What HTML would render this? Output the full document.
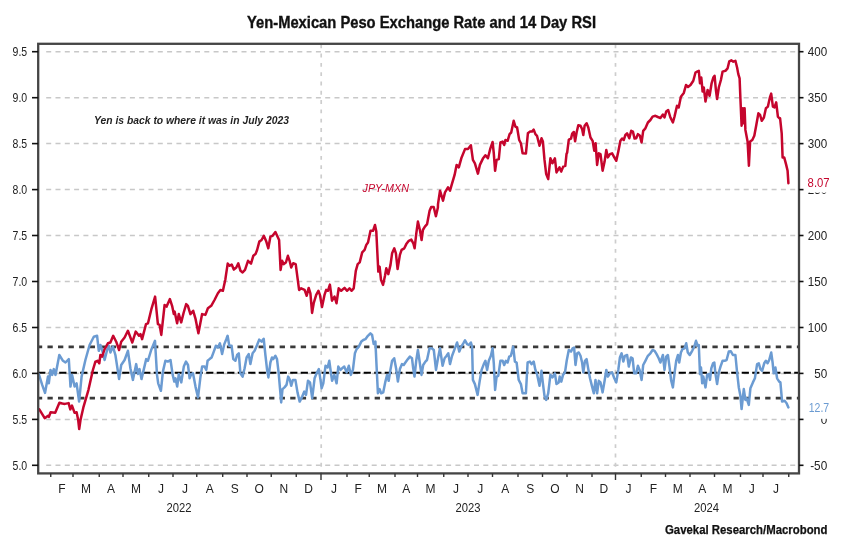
<!DOCTYPE html>
<html><head><meta charset="utf-8"><title>Yen-Mexican Peso Exchange Rate and 14 Day RSI</title>
<style>
html,body{margin:0;padding:0;background:#fff;}
body{width:841px;height:548px;overflow:hidden;}
svg{display:block;}
text{font-family:"Liberation Sans",sans-serif;}
</style></head><body>
<svg width="841" height="548" viewBox="0 0 841 548" style="filter:blur(0.45px)">
<rect width="841" height="548" fill="#ffffff"/>

<text x="421.5" y="27.5" font-size="16.5" font-weight="bold" fill="#111" stroke="#111" stroke-width="0.35" text-anchor="middle" textLength="349" lengthAdjust="spacingAndGlyphs">Yen-Mexican Peso Exchange Rate and 14 Day RSI</text>
<g stroke="#c8c8c8" stroke-width="1.5" stroke-dasharray="5 4.3" fill="none">
<line x1="46.2" y1="51.7" x2="799" y2="51.7"/>
<line x1="46.2" y1="97.7" x2="799" y2="97.7"/>
<line x1="46.2" y1="143.6" x2="799" y2="143.6"/>
<line x1="46.2" y1="189.6" x2="799" y2="189.6"/>
<line x1="46.2" y1="235.5" x2="799" y2="235.5"/>
<line x1="46.2" y1="281.5" x2="799" y2="281.5"/>
<line x1="46.2" y1="327.5" x2="799" y2="327.5"/>
<line x1="46.2" y1="373.4" x2="799" y2="373.4"/>
<line x1="46.2" y1="419.4" x2="799" y2="419.4"/>
<line x1="46.2" y1="465.3" x2="799" y2="465.3"/>
</g>
<g stroke="#cdcdcd" stroke-width="1.7" stroke-dasharray="3.9 5.4" fill="none">
<line x1="321.2" y1="44.3" x2="321.2" y2="473.4"/>
<line x1="615.5" y1="44.3" x2="615.5" y2="473.4"/>
</g>
<g stroke="#3a3a3a" stroke-width="2.6" stroke-dasharray="5.3 5.255" stroke-dashoffset="1.3" fill="none"><line x1="38.2" y1="346.9" x2="799" y2="346.9"/><line x1="38.2" y1="398.1" x2="799" y2="398.1"/></g>
<line x1="38.2" y1="372.8" x2="799" y2="372.8" stroke="#000" stroke-width="2" stroke-dasharray="7.2 3.3"/>
<polyline points="38.8,374.1 42.2,384.9 45.0,392.9 48.0,376.6 48.8,383.3 50.5,370.0 52.2,374.9 53.8,369.1 55.5,374.9 59.3,355.0 63.0,360.8 65.5,362.5 68.8,359.1 70.5,386.6 72.1,374.9 74.6,386.6 76.6,383.3 79.1,401.6 81.6,376.6 85.4,360.0 89.6,345.0 93.8,336.7 97.1,335.8 98.8,350.8 100.4,345.0 102.1,350.0 104.6,360.0 107.1,350.0 108.8,345.8 110.4,352.5 112.9,346.6 115.4,355.0 119.1,379.1 121.2,365.0 124.6,360.0 127.9,350.8 130.4,368.3 132.9,379.9 136.2,364.1 137.9,374.1 139.5,369.1 141.5,379.1 146.2,359.1 147.9,360.8 151.2,350.0 155.0,340.8 157.0,374.9 158.2,383.3 160.9,390.8 162.9,371.6 165.4,360.8 167.8,361.6 170.5,360.0 172.7,374.9 174.3,381.6 175.5,378.3 177.2,386.6 178.8,374.1 181.3,382.4 183.8,366.6 186.0,361.6 188.0,365.0 189.6,378.3 191.3,374.1 193.0,373.3 195.5,386.6 198.0,397.4 200.5,376.6 202.1,366.6 204.6,366.6 206.3,369.9 207.6,360.8 209.6,359.1 211.6,357.5 213.8,351.6 215.9,345.8 217.9,347.5 219.9,343.3 222.1,354.1 224.3,344.1 226.3,339.2 227.6,335.8 229.3,345.8 231.6,345.8 233.3,359.1 235.4,360.8 237.1,355.0 238.8,353.3 240.4,373.3 242.6,376.6 244.6,368.3 246.6,357.5 248.7,354.1 250.4,364.1 252.6,353.3 254.6,350.8 257.1,345.0 259.2,339.6 261.6,341.6 263.7,338.7 265.4,355.0 267.1,369.9 268.4,377.4 270.4,362.5 272.0,357.5 273.2,359.1 275.4,355.8 277.0,359.1 278.7,373.3 279.9,387.4 281.2,402.4 282.5,389.1 284.5,387.4 286.5,384.9 288.2,376.6 289.9,379.9 291.2,385.8 292.9,379.9 295.4,379.9 297.5,392.4 299.7,401.6 302.2,396.6 304.3,391.6 306.0,394.9 308.0,380.8 310.0,382.4 312.2,398.2 314.6,378.3 316.6,373.3 318.8,369.1 320.5,379.9 321.6,388.3 323.3,383.3 325.5,365.8 327.6,367.5 329.3,360.8 331.0,373.3 332.1,380.8 334.3,374.9 336.6,383.3 338.3,366.6 340.5,369.9 342.1,368.3 344.3,366.6 346.6,372.4 348.8,365.8 350.9,374.9 352.9,369.9 354.9,353.3 356.6,349.1 358.8,346.6 361.3,341.6 363.3,340.0 365.4,339.2 367.9,335.8 370.4,333.3 372.1,335.0 373.7,344.1 375.4,341.6 376.6,366.6 377.9,393.3 379.6,389.1 381.2,393.3 383.2,392.4 385.4,381.6 387.1,374.9 388.7,380.8 390.4,369.9 392.1,360.8 394.2,358.3 396.2,369.1 397.9,381.6 399.9,369.1 402.0,364.1 403.7,365.0 405.4,362.5 407.9,359.1 409.9,356.6 412.0,358.3 413.2,368.3 414.5,376.6 416.2,360.8 417.9,350.0 419.5,360.8 421.5,374.9 423.2,365.0 425.4,361.6 427.0,360.0 429.5,348.3 431.7,348.3 433.8,350.0 436.0,369.9 438.0,358.3 440.0,348.3 442.6,365.8 444.6,358.3 446.6,355.8 448.3,353.3 450.0,364.1 452.1,355.8 454.6,349.1 457.1,342.5 459.3,351.6 461.3,346.6 463.3,343.3 465.0,340.3 467.1,344.1 468.8,345.0 470.9,342.5 472.1,346.6 472.9,379.9 474.9,384.1 477.6,394.9 479.6,381.6 481.6,369.9 483.8,364.1 485.4,360.8 487.1,369.9 488.8,360.8 490.9,355.8 492.6,348.3 493.8,363.3 495.1,389.9 496.6,376.6 498.3,375.8 500.4,360.8 502.6,360.8 504.2,365.0 505.9,360.8 507.6,362.5 509.2,356.6 510.9,355.8 513.2,346.6 514.9,361.6 516.6,362.5 518.7,379.9 520.9,384.1 522.6,393.3 525.9,393.3 527.6,362.5 529.9,361.6 531.5,364.1 533.7,361.6 535.4,369.9 537.0,374.1 539.5,385.8 541.5,370.8 542.9,383.3 544.5,395.8 546.2,399.9 548.2,393.3 550.4,374.9 552.5,377.4 554.9,373.3 556.5,384.1 558.7,382.4 559.7,376.6 561.3,381.6 563.0,374.9 565.0,372.4 566.7,360.8 568.8,350.0 571.0,351.6 572.6,348.3 574.1,347.5 575.5,365.0 577.1,353.3 578.8,352.5 580.5,355.8 582.1,362.5 583.3,372.4 585.0,360.8 586.6,359.1 588.3,369.1 590.0,378.3 592.1,386.6 593.8,393.3 595.5,379.9 597.1,393.3 598.8,380.8 600.5,382.4 602.6,392.4 604.6,380.8 606.3,369.9 607.9,376.6 609.9,373.3 612.1,372.4 614.3,378.3 616.3,382.4 618.3,369.9 619.9,357.5 621.6,353.3 623.3,361.6 624.9,355.8 627.1,355.0 628.8,366.6 630.9,357.5 632.6,358.3 634.2,373.3 636.2,373.3 637.9,365.8 639.6,369.9 641.6,379.9 643.2,365.0 645.4,360.8 647.9,355.8 650.4,353.3 652.6,350.0 654.6,350.8 656.6,354.1 658.7,358.3 660.4,362.5 662.9,355.0 664.5,369.9 666.2,356.6 667.9,355.0 669.5,366.6 671.2,380.8 672.9,387.4 674.5,373.3 676.2,360.8 677.9,355.0 679.2,362.5 680.9,352.5 682.5,349.1 684.5,348.3 686.2,343.3 687.8,352.5 689.7,355.0 692.2,350.8 694.3,346.6 696.0,340.8 697.7,345.8 698.8,345.0 700.0,374.1 701.0,367.5 702.2,383.3 703.3,376.6 705.5,387.4 707.1,374.9 708.8,374.1 710.0,379.9 711.3,368.3 713.0,363.3 714.3,362.5 715.5,374.1 717.1,384.1 718.8,372.5 720.5,366.6 722.6,360.8 724.6,360.8 726.6,360.0 728.8,351.6 730.9,351.3 732.9,355.0 735.4,355.0 737.1,372.5 738.8,387.4 740.4,395.8 741.6,409.1 743.8,389.1 745.4,399.9 746.6,398.3 748.8,404.9 750.4,388.3 752.9,382.4 754.9,378.3 757.1,364.1 758.8,363.3 760.4,369.1 762.1,370.8 764.2,363.3 765.9,360.8 767.6,363.3 769.2,360.0 771.2,352.5 772.6,362.5 773.7,373.3 775.4,367.5 777.1,378.3 779.2,381.6 780.4,382.4 782.1,401.6 784.6,400.8 786.6,403.2 788.4,407.4" fill="none" stroke="#6b9bd2" stroke-width="2.5" stroke-linejoin="round" stroke-linecap="round"/>
<polyline points="39.3,409.4 44.7,418.2 48.1,415.7 48.9,416.9 50.6,412.3 55.2,412.7 59.4,402.7 62.3,403.5 64.9,403.9 68.6,403.1 70.3,409.4 72.0,405.6 74.5,412.7 76.6,412.3 78.2,420 79.2,429 80.5,420 83.3,407.7 88.4,390.1 92.9,370.0 95.4,361.6 97.9,360.8 99.3,363.3 100.4,355.0 102.1,356.6 104.6,349.1 107.9,343.3 110.4,342.5 113.2,335.8 116.2,341.7 119.1,350.0 121.2,341.7 124.6,337.5 127.9,330.8 132.3,342.5 135.7,331.6 139.0,335.8 140.5,334.1 142.1,339.1 146.0,324.1 148.0,323.3 151.6,308.3 155.1,296.6 157.9,324.1 159.6,324.9 161.3,334.9 164.6,305.0 166.6,306.6 169.9,299.1 172.1,305.8 173.8,314.1 174.6,311.6 177.1,323.3 178.8,314.1 181.2,322.4 183.7,312.5 186.2,304.1 187.9,305.8 190.4,314.1 193.2,310.8 195.4,318.3 198.4,333.3 202.1,314.1 205.4,314.9 207.9,308.3 211.2,305.8 214.5,300.0 217.9,293.3 220.4,290.0 222.9,290.8 225.4,279.2 226.0,274.9 227.7,263.6 229.7,265.8 231.7,264.6 233.8,269.6 236.3,267.5 238.3,263.3 240.5,270.8 242.6,272.4 245.0,269.9 248.0,260.8 251.0,263.6 253.3,255.8 255.5,254.1 257.1,250.0 259.3,241.6 261.6,240.0 263.8,235.8 266.3,241.6 268.3,248.3 270.4,236.7 272.6,235.8 275.4,232.0 277.6,236.7 279.1,240.0 280.6,269.9 282.1,260.8 283.8,264.1 285.9,262.5 287.9,255.8 289.6,260.8 291.2,267.5 293.2,263.3 295.7,264.1 299.1,289.9 301.2,288.3 304.6,289.9 306.7,295.8 308.7,287.9 310.4,293.3 312.1,312.9 313.7,303.2 316.2,294.9 318.4,290.8 319.9,294.9 322.0,306.9 324.5,294.9 326.2,289.9 327.9,290.8 329.9,284.6 332.0,300.7 334.5,296.6 336.5,303.2 338.7,288.3 341.2,290.8 344.5,287.9 347.0,290.8 349.5,288.3 351.5,290.8 353.7,288.3 355.8,270.8 357.7,264.1 359.7,262.4 362.2,252.4 364.6,249.9 366.3,244.9 368.0,242.5 370.5,230.8 373.0,230.8 375.0,225.0 376.3,231.6 378.3,271.6 379.6,266.6 381.0,279.9 383.0,284.9 385.0,275.7 386.3,268.3 388.3,274.1 390.5,264.9 392.1,253.3 394.3,248.3 395.9,253.3 397.6,269.1 399.9,254.9 401.6,249.9 404.3,248.3 406.3,244.1 408.8,240.8 411.3,239.6 413.3,243.3 414.6,248.3 416.3,233.3 417.9,221.6 419.9,230.0 421.6,240.0 422.9,230.0 424.9,226.6 427.1,224.1 429.6,210.8 431.2,207.0 433.7,207.0 435.9,216.3 437.9,207.5 438.0,204.1 440.0,190.7 443.0,200.7 445.0,192.4 448.0,187.4 450.0,190.7 452.1,183.3 454.6,174.9 456.6,164.9 458.8,167.4 461.3,158.3 465.0,149.1 468.0,149.1 470.9,145.3 472.9,159.9 474.9,163.3 477.9,173.6 479.9,164.9 482.9,158.6 485.4,155.3 487.9,158.3 490.4,148.3 492.6,142.0 493.8,153.3 495.1,170.8 496.6,159.9 498.8,159.1 500.4,142.5 502.6,141.6 504.2,145.0 505.4,140.0 507.6,140.8 509.6,134.1 511.2,132.5 513.7,120.8 515.4,126.7 517.1,127.5 519.2,140.0 520.9,143.3 522.6,153.3 525.9,153.6 527.9,133.3 529.9,131.6 532.0,131.6 533.7,129.6 535.4,134.1 537.0,135.8 539.5,145.8 541.5,138.3 542.9,141.6 544.5,159.9 546.2,174.1 548.2,179.1 550.4,158.3 552.5,163.3 554.9,158.3 556.5,172.4 559.5,167.4 561.2,171.6 563.2,166.6 565.3,165.8 566.5,154.1 567.2,152.4 568.8,139.6 571.0,138.6 572.2,133.6 573.8,132.0 575.1,141.3 576.6,132.5 578.3,125.3 580.5,125.8 582.1,129.1 583.3,135.0 584.6,125.8 586.6,123.3 588.3,127.5 590.5,137.5 592.6,140.8 594.3,150.8 595.6,143.3 597.1,164.9 598.8,153.3 600.5,154.1 602.6,170.7 604.6,161.6 606.3,149.9 607.9,157.4 609.9,154.1 612.1,153.3 614.3,157.4 616.3,160.8 618.3,151.6 620.4,140.8 622.1,138.6 623.8,139.9 625.4,135.0 627.1,133.3 629.3,138.3 631.2,130.8 632.9,131.6 634.6,138.6 636.2,138.3 637.9,134.1 639.9,135.8 641.6,142.4 643.2,130.8 645.4,128.3 647.9,122.5 650.4,120.0 652.6,116.6 655.4,115.8 657.9,117.0 660.4,118.0 662.9,114.6 664.5,117.5 666.2,111.6 668.2,110.0 670.4,117.5 672.9,122.5 674.5,116.6 677.0,105.8 678.7,107.5 680.9,96.7 683.8,92.9 686.0,85.0 688.0,87.0 690.5,85.0 693.3,80.8 695.5,72.5 697.6,71.3 698.8,70.8 700.0,83.3 701.3,77.5 702.6,91.6 703.8,87.5 705.5,101.6 707.6,90.0 709.6,95.8 711.6,83.3 713.3,77.5 714.6,75.8 715.9,90.0 717.1,99.1 718.8,87.5 720.9,80.0 722.6,71.6 725.4,70.8 727.6,68.3 729.3,61.3 731.3,60.3 733.3,61.7 735.4,60.8 737.1,67.5 738.3,74.1 739.6,78.3 740.4,98.3 741.6,125.7 742.9,108.3 743.7,123.2 744.6,108.3 745.4,129.9 747.1,139.1 747.6,141.6 748.9,165.8 750.1,141.6 752.3,140.0 754.3,135.8 756.3,125.0 758.4,113.3 760.1,115.0 761.8,120.8 763.9,117.5 765.9,108.3 767.9,106.6 769.9,97.4 771.2,93.6 772.9,106.6 774.5,107.4 776.2,102.4 777.9,116.6 779.5,118.3 780.1,118.3 781.7,133.3 782.6,157.4 784.2,157.4 786.2,164.9 787.6,170.8 788.4,183.2" fill="none" stroke="#c5052d" stroke-width="2.5" stroke-linejoin="round" stroke-linecap="round"/>
<rect x="38.2" y="43.8" width="760.8" height="429.59999999999997" fill="none" stroke="#454545" stroke-width="2.3"/>
<g stroke="#111" stroke-width="1.6">
<line x1="32" y1="51.7" x2="38.2" y2="51.7"/><line x1="799" y1="51.7" x2="803.5" y2="51.7"/>
<line x1="32" y1="97.7" x2="38.2" y2="97.7"/><line x1="799" y1="97.7" x2="803.5" y2="97.7"/>
<line x1="32" y1="143.6" x2="38.2" y2="143.6"/><line x1="799" y1="143.6" x2="803.5" y2="143.6"/>
<line x1="32" y1="189.6" x2="38.2" y2="189.6"/><line x1="799" y1="189.6" x2="803.5" y2="189.6"/>
<line x1="32" y1="235.5" x2="38.2" y2="235.5"/><line x1="799" y1="235.5" x2="803.5" y2="235.5"/>
<line x1="32" y1="281.5" x2="38.2" y2="281.5"/><line x1="799" y1="281.5" x2="803.5" y2="281.5"/>
<line x1="32" y1="327.5" x2="38.2" y2="327.5"/><line x1="799" y1="327.5" x2="803.5" y2="327.5"/>
<line x1="32" y1="373.4" x2="38.2" y2="373.4"/><line x1="799" y1="373.4" x2="803.5" y2="373.4"/>
<line x1="32" y1="419.4" x2="38.2" y2="419.4"/><line x1="799" y1="419.4" x2="803.5" y2="419.4"/>
<line x1="32" y1="465.3" x2="38.2" y2="465.3"/><line x1="799" y1="465.3" x2="803.5" y2="465.3"/>
</g>
<g font-size="12.6" fill="#222">
<text x="27.2" y="56.2" text-anchor="end" textLength="14.6" lengthAdjust="spacingAndGlyphs">9.5</text>
<text x="27.2" y="102.2" text-anchor="end" textLength="14.6" lengthAdjust="spacingAndGlyphs">9.0</text>
<text x="27.2" y="148.1" text-anchor="end" textLength="14.6" lengthAdjust="spacingAndGlyphs">8.5</text>
<text x="27.2" y="194.1" text-anchor="end" textLength="14.6" lengthAdjust="spacingAndGlyphs">8.0</text>
<text x="27.2" y="240.0" text-anchor="end" textLength="14.6" lengthAdjust="spacingAndGlyphs">7.5</text>
<text x="27.2" y="286.0" text-anchor="end" textLength="14.6" lengthAdjust="spacingAndGlyphs">7.0</text>
<text x="27.2" y="332.0" text-anchor="end" textLength="14.6" lengthAdjust="spacingAndGlyphs">6.5</text>
<text x="27.2" y="377.9" text-anchor="end" textLength="14.6" lengthAdjust="spacingAndGlyphs">6.0</text>
<text x="27.2" y="423.9" text-anchor="end" textLength="14.6" lengthAdjust="spacingAndGlyphs">5.5</text>
<text x="27.2" y="469.8" text-anchor="end" textLength="14.6" lengthAdjust="spacingAndGlyphs">5.0</text>
<text x="827.2" y="56.2" text-anchor="end" textLength="19.4" lengthAdjust="spacingAndGlyphs">400</text>
<text x="827.2" y="102.2" text-anchor="end" textLength="19.4" lengthAdjust="spacingAndGlyphs">350</text>
<text x="827.2" y="148.1" text-anchor="end" textLength="19.4" lengthAdjust="spacingAndGlyphs">300</text>
<text x="827.2" y="194.1" text-anchor="end" textLength="19.4" lengthAdjust="spacingAndGlyphs">250</text>
<text x="827.2" y="240.0" text-anchor="end" textLength="19.4" lengthAdjust="spacingAndGlyphs">200</text>
<text x="827.2" y="286.0" text-anchor="end" textLength="19.4" lengthAdjust="spacingAndGlyphs">150</text>
<text x="827.2" y="332.0" text-anchor="end" textLength="19.4" lengthAdjust="spacingAndGlyphs">100</text>
<text x="827.2" y="377.9" text-anchor="end" textLength="13" lengthAdjust="spacingAndGlyphs">50</text>
<text x="827.2" y="423.9" text-anchor="end" textLength="6.5" lengthAdjust="spacingAndGlyphs">0</text>
<text x="827.2" y="469.8" text-anchor="end" textLength="17" lengthAdjust="spacingAndGlyphs">-50</text>
</g>
<rect x="805" y="174" width="32" height="18.6" fill="#fff"/>
<text x="807.6" y="187" font-size="12" fill="#c5052d" textLength="22" lengthAdjust="spacingAndGlyphs">8.07</text>
<rect x="805" y="399" width="32" height="19.8" fill="#fff"/>
<text x="808.7" y="411.8" font-size="12" fill="#6b9bd2" textLength="20.5" lengthAdjust="spacingAndGlyphs">12.7</text>
<g stroke="#333" stroke-width="1.4">
<line x1="50.75" y1="473.4" x2="50.75" y2="477"/>
<line x1="73" y1="473.4" x2="73" y2="477"/>
<line x1="99.25" y1="473.4" x2="99.25" y2="477"/>
<line x1="123" y1="473.4" x2="123" y2="477"/>
<line x1="148.75" y1="473.4" x2="148.75" y2="477"/>
<line x1="173" y1="473.4" x2="173" y2="477"/>
<line x1="196.75" y1="473.4" x2="196.75" y2="477"/>
<line x1="222.7" y1="473.4" x2="222.7" y2="477"/>
<line x1="247" y1="473.4" x2="247" y2="477"/>
<line x1="271.25" y1="473.4" x2="271.25" y2="477"/>
<line x1="296.25" y1="473.4" x2="296.25" y2="477"/>
<line x1="321" y1="473.4" x2="321" y2="480"/>
<line x1="347" y1="473.4" x2="347" y2="477"/>
<line x1="369.25" y1="473.4" x2="369.25" y2="477"/>
<line x1="395" y1="473.4" x2="395" y2="477"/>
<line x1="417.5" y1="473.4" x2="417.5" y2="477"/>
<line x1="443.75" y1="473.4" x2="443.75" y2="477"/>
<line x1="468" y1="473.4" x2="468" y2="477"/>
<line x1="492.5" y1="473.4" x2="492.5" y2="477"/>
<line x1="518" y1="473.4" x2="518" y2="477"/>
<line x1="542.5" y1="473.4" x2="542.5" y2="477"/>
<line x1="567" y1="473.4" x2="567" y2="477"/>
<line x1="592" y1="473.4" x2="592" y2="477"/>
<line x1="615.5" y1="473.4" x2="615.5" y2="480"/>
<line x1="641.25" y1="473.4" x2="641.25" y2="477"/>
<line x1="665.5" y1="473.4" x2="665.5" y2="477"/>
<line x1="690" y1="473.4" x2="690" y2="477"/>
<line x1="714.5" y1="473.4" x2="714.5" y2="477"/>
<line x1="740.5" y1="473.4" x2="740.5" y2="477"/>
<line x1="763" y1="473.4" x2="763" y2="477"/>
<line x1="788.75" y1="473.4" x2="788.75" y2="477"/>
</g>
<g font-size="12" fill="#222" text-anchor="middle">
<text x="61.9" y="492.6">F</text>
<text x="86.1" y="492.6">M</text>
<text x="111.1" y="492.6">A</text>
<text x="135.9" y="492.6">M</text>
<text x="160.9" y="492.6">J</text>
<text x="184.9" y="492.6">J</text>
<text x="209.7" y="492.6">A</text>
<text x="234.8" y="492.6">S</text>
<text x="259.1" y="492.6">O</text>
<text x="283.8" y="492.6">N</text>
<text x="308.6" y="492.6">D</text>
<text x="334.0" y="492.6">J</text>
<text x="358.1" y="492.6">F</text>
<text x="382.1" y="492.6">M</text>
<text x="406.2" y="492.6">A</text>
<text x="430.6" y="492.6">M</text>
<text x="455.9" y="492.6">J</text>
<text x="480.2" y="492.6">J</text>
<text x="505.2" y="492.6">A</text>
<text x="530.2" y="492.6">S</text>
<text x="554.8" y="492.6">O</text>
<text x="579.5" y="492.6">N</text>
<text x="603.8" y="492.6">D</text>
<text x="628.4" y="492.6">J</text>
<text x="653.4" y="492.6">F</text>
<text x="677.8" y="492.6">M</text>
<text x="702.2" y="492.6">A</text>
<text x="727.5" y="492.6">M</text>
<text x="751.8" y="492.6">J</text>
<text x="775.9" y="492.6">J</text>
<text x="179" y="512" textLength="25" lengthAdjust="spacingAndGlyphs">2022</text>
<text x="468" y="512" textLength="25" lengthAdjust="spacingAndGlyphs">2023</text>
<text x="706.5" y="512" textLength="25" lengthAdjust="spacingAndGlyphs">2024</text>
</g>
<text x="94" y="123.5" font-size="11.5" font-style="italic" font-weight="bold" fill="#222" textLength="195" lengthAdjust="spacingAndGlyphs">Yen is back to where it was in July 2023</text>
<text x="362.5" y="192" font-size="11.5" font-style="italic" fill="#c5052d" textLength="46.5" lengthAdjust="spacingAndGlyphs">JPY-MXN</text>
<text x="827.5" y="534" font-size="12.5" font-weight="bold" fill="#111" stroke="#111" stroke-width="0.25" text-anchor="end" textLength="162.5" lengthAdjust="spacingAndGlyphs">Gavekal Research/Macrobond</text>
</svg></body></html>
